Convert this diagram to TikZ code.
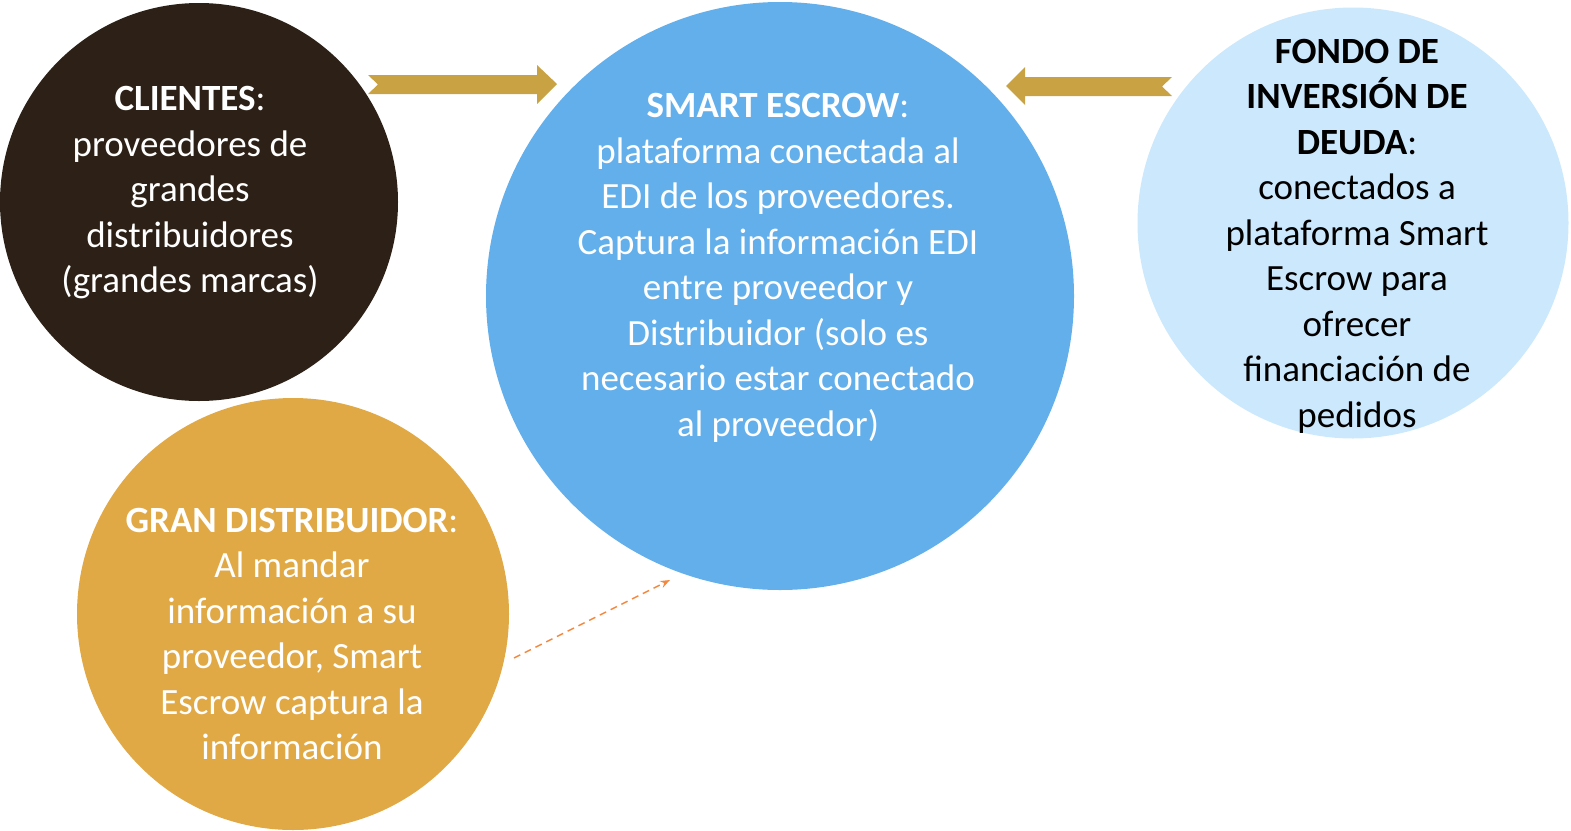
\documentclass[tikz,border=0pt]{standalone}
\usepackage{fontspec}
\setmainfont{Carlito}
\usetikzlibrary{arrows.meta}
\definecolor{clientbrown}{HTML}{2D2117}
\definecolor{escrowblue}{HTML}{63AFEC}
\definecolor{fondoblue}{HTML}{CCE8FC}
\definecolor{granorange}{HTML}{E1A945}
\definecolor{arrowgold}{HTML}{C9A244}
\definecolor{dashorange}{HTML}{F4883E}
\tikzset{
    circle style/.style={circle,inner sep=0pt,draw=none},
    text style/.style={align=center,font=\fontsize{37}{45.5}\selectfont},
    block arrow/.style={fill=arrowgold,draw=none},
}
\begin{document}
\begin{tikzpicture}[x=1pt,y=-1pt,>=Stealth]
\useasboundingbox (0,0) rectangle (1571,830);

% circles
\node [circle style,fill=clientbrown,minimum size=398pt] (clientes) at (199,202) {};
\node [circle style,fill=escrowblue,minimum size=588pt] (escrow) at (780,296) {};
\node [circle style,fill=fondoblue,minimum size=431pt] (fondo) at (1353,223) {};
\node [circle style,fill=granorange,minimum size=432pt] (gran) at (293,614) {};

% texts
\node [text style,text=white] (clientestxt) at (190,193)
  {\textbf{CLIENTES}:\\proveedores de\\grandes\\distribuidores\\(grandes marcas)};
\node [text style,text=white] (escrowtxt) at (778,268)
  {\textbf{SMART ESCROW}:\\plataforma conectada al\\EDI de los proveedores.\\Captura la informaci\'on EDI\\entre proveedor y\\Distribuidor (solo es\\necesario estar conectado\\al proveedor)};
\node [text style,text=black] (fondotxt) at (1357,236)
  {\textbf{FONDO DE}\\\textbf{INVERSI\'ON DE}\\\textbf{DEUDA}:\\conectados a\\plataforma Smart\\Escrow para\\ofrecer\\financiaci\'on de\\pedidos};
\node [text style,text=white] (grantxt) at (292,634)
  {\textbf{GRAN DISTRIBUIDOR}:\\Al mandar\\informaci\'on a su\\proveedor, Smart\\Escrow captura la\\informaci\'on};

% block arrows
\fill [block arrow] (368,75) -- (537,75) -- (537,65) -- (557,84) -- (537,104)
  -- (537,94) -- (368,94) -- (378,84.5) -- cycle;
\fill [block arrow] (1172,77) -- (1025,77) -- (1025,67) -- (1006,86) -- (1025,105)
  -- (1025,96) -- (1172,96) -- (1162,86.5) -- cycle;

% dashed arrow
\coordinate (dstart) at (514,658);
\coordinate (dend) at (670,580);
\draw [->,dashorange,dashed,line width=1.5pt,dash pattern=on 7pt off 5pt] (dstart) -- (dend);

\end{tikzpicture}
\end{document}
